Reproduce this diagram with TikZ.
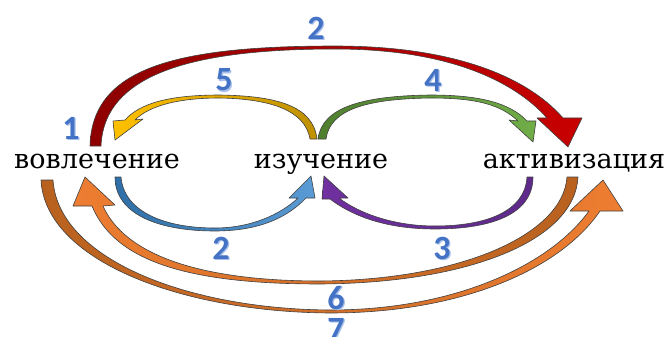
\documentclass[tikz,border=0pt]{standalone}
\usepackage{fontspec}
\setmainfont{DejaVu Serif}
\newfontfamily\wordfont{DejaVu Serif}
\newfontfamily\numfont{Carlito}
\definecolor{numblue}{HTML}{4472C4}
\definecolor{numlight}{HTML}{A9C1EA}
\definecolor{redA}{HTML}{8E0000}
\definecolor{redB}{HTML}{C80000}
\definecolor{yelA}{HTML}{BF9000}
\definecolor{yelB}{HTML}{FFC000}
\definecolor{grnA}{HTML}{4F7F2E}
\definecolor{grnB}{HTML}{70AD47}
\definecolor{bluA}{HTML}{2E6FA8}
\definecolor{bluB}{HTML}{5B9BD5}
\definecolor{purA}{HTML}{5E2A8A}
\definecolor{purB}{HTML}{7030A0}
\definecolor{orA}{HTML}{B8611F}
\definecolor{orB}{HTML}{ED7D31}
\tikzset{
  word/.style={font=\wordfont\fontsize{27}{32}\selectfont, anchor=base, inner sep=0pt},
  num/.style={font=\numfont\bfseries\fontsize{34}{40}\selectfont, text=numblue, inner sep=0pt},
  numsh/.style={font=\numfont\bfseries\fontsize{34}{40}\selectfont, text=numlight, inner sep=0pt},
  arr/.style={draw=black!75, line width=0.6pt, line join=round}
}
\newcommand{\numlabel}[3]{%
  \node[numsh] (#1s) at ([shift={(1.3,1.3)}]#2) {#3};
  \node[num] (#1) at (#2) {#3};}
\begin{document}
\begin{tikzpicture}[x=1pt,y=-1pt]
\path[use as bounding box] (0,0) rectangle (670,337);
\clip (0,0) rectangle (670,337);

% words
\node[word] (vov) at (97,168) {вовлечение};
\node[word] (izu) at (321,168) {изучение};
\node[word] (akt) at (574,168) {активизация};

% red arrow 2 (top)
\path[arr, left color=redA, right color=redB]
  (90,146) .. controls (92,70) and (170,46) .. (335,46)
  .. controls (460,46) and (530,80) .. (563,118)
  -- (582,118) -- (568,147) -- (537,118) -- (547,118)
  .. controls (515,82) and (450,49) .. (335,49)
  .. controls (190,49) and (104,75) .. (101,146) -- cycle;

% yellow arrow 5
\path[arr, left color=yelB, right color=yelA]
  (317,139) .. controls (313,105) and (275,96) .. (220,95)
  .. controls (170,95) and (140,103) .. (125,120)
  -- (113,121) -- (115,140) -- (143,119) -- (135,120)
  .. controls (150,105) and (180,98) .. (220,98)
  .. controls (270,99) and (305,110) .. (310,139) -- cycle;

% green arrow 4
\path[arr, left color=grnA, right color=grnB]
  (318,139) .. controls (322,108) and (360,96) .. (430,95)
  .. controls (480,95) and (510,103) .. (527,121)
  -- (536,121) -- (533,142) -- (509,120) -- (518,121)
  .. controls (500,104) and (475,98) .. (430,98)
  .. controls (365,99) and (330,110) .. (326,139) -- cycle;

% blue arrow 2 (bottom)
\path[arr, left color=bluA, right color=bluB]
  (115,177) .. controls (115,215) and (160,231) .. (215,231)
  .. controls (255,231) and (285,220) .. (306,198)
  -- (315,198) -- (311,176) -- (289,198) -- (298,198)
  .. controls (280,215) and (250,228) .. (215,228)
  .. controls (165,228) and (124,212) .. (121,177) -- cycle;

% purple arrow 3
\path[arr, left color=purB, right color=purA]
  (533,177) .. controls (533,215) and (490,229) .. (435,229)
  .. controls (390,229) and (355,218) .. (330,199)
  -- (322,199) -- (324,176) -- (348,198) -- (339,198)
  .. controls (360,214) and (395,226) .. (435,226)
  .. controls (485,226) and (525,212) .. (527,177) -- cycle;

% orange arrow 6
\path[arr, left color=orB, right color=orA]
  (578,177) .. controls (575,240) and (470,283) .. (320,284)
  .. controls (190,284) and (115,262) .. (92,206)
  -- (73,206) -- (85,177) -- (115,205) -- (103,206)
  .. controls (125,255) and (200,281) .. (320,281)
  .. controls (460,280) and (563,235) .. (567,177) -- cycle;

% orange arrow 7
\path[arr, left color=orA, right color=orB]
  (41,180) .. controls (45,260) and (180,312) .. (330,313)
  .. controls (460,313) and (560,270) .. (600,211)
  -- (623,211) -- (603,180) -- (570,211) -- (589,211)
  .. controls (550,265) and (455,310) .. (330,310)
  .. controls (185,309) and (58,258) .. (53,180) -- cycle;

% numbers
\numlabel{n2a}{316,28}{2}
\numlabel{n5}{224,80}{5}
\numlabel{n4}{433,80}{4}
\numlabel{n1}{71,128}{1}
\numlabel{n2b}{221,248}{2}
\numlabel{n3}{442,248}{3}
\numlabel{n6}{336,298}{6}
\numlabel{n7}{336,329}{7}
\end{tikzpicture}
\end{document}
